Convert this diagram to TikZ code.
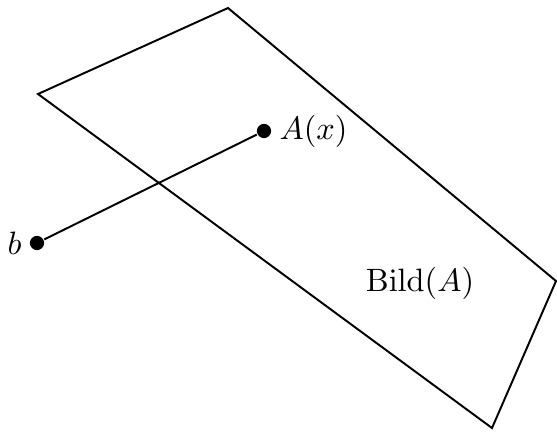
\documentclass[tikz,border=0pt]{standalone}
\usetikzlibrary{positioning}

\begin{document}
\begin{tikzpicture}[x=0.01086cm,y=-0.01086cm,line width=0.6pt,
                    punkt/.style={circle,fill=black,inner sep=0pt,minimum size=4.4pt},
                    beschr/.style={inner sep=1pt}]

          \useasboundingbox (0,0) rectangle (557,432);

          \coordinate (P1) at (228,8);
          \coordinate (P2) at (38,94);
          \coordinate (P3) at (492,428);
          \coordinate (P4) at (556,281);

          \draw (P1) -- (P2) -- (P3) -- (P4) -- cycle;

          \node[punkt] (Ax) at (264,131) {};
          \node[punkt] (b)  at (37,243)  {};
          \node[beschr,right=1pt of Ax] {$A(x)$};
          \node[beschr,left=1pt of b]   {$b$};
          \node (bild) at (420,283) {$\mathrm{Bild}(A)$};

          \draw (b) -- (Ax);
        \end{tikzpicture}
\end{document}
